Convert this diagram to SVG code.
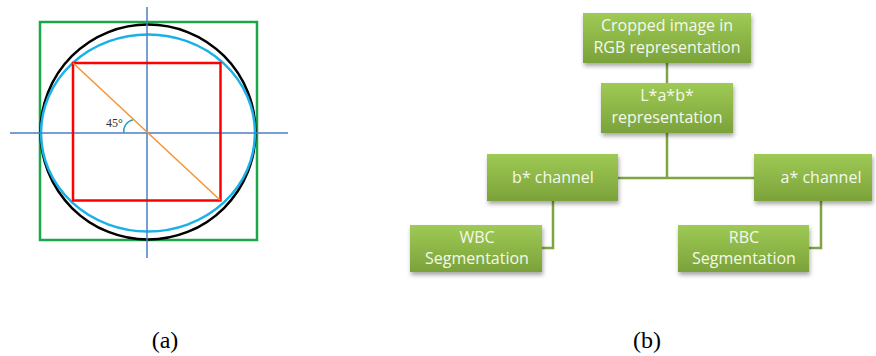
<svg xmlns="http://www.w3.org/2000/svg" width="876" height="356" viewBox="0 0 876 356">
<defs>
<linearGradient id="g" x1="0" y1="0" x2="0" y2="1">
<stop offset="0" stop-color="#9fca55"/>
<stop offset="1" stop-color="#7ba23a"/>
</linearGradient>
<filter id="sh" x="-10%" y="-10%" width="130%" height="140%">
<feDropShadow dx="1" dy="3" stdDeviation="2" flood-color="#000" flood-opacity="0.35"/>
</filter>
<style>
.box{fill:url(#g);filter:url(#sh)}
.bt{font-family:"Open Sans","Noto Sans",sans-serif;font-size:16px;fill:#f4f9ec;text-anchor:middle}
.con{fill:none;stroke:#7fa442;stroke-width:2.5}
.cap{font-family:"Liberation Serif",serif;font-size:24px;fill:#000;text-anchor:middle}
</style>
</defs>
<rect width="876" height="356" fill="#fff"/>
<g id="panel-a">
<rect x="40" y="22" width="217" height="218" fill="none" stroke="#1aa64a" stroke-width="2.5"/>
<circle cx="148" cy="132" r="107.5" fill="none" stroke="#000" stroke-width="2.5"/>
<ellipse cx="148" cy="133" rx="107" ry="98.5" fill="none" stroke="#1ab0e8" stroke-width="2.5"/>
<line x1="147" y1="7" x2="147" y2="258" stroke="#4a7fc1" stroke-width="1.5"/>
<line x1="10" y1="133" x2="288" y2="133" stroke="#4a7fc1" stroke-width="1.5"/>
<rect x="73" y="63" width="147.5" height="137.5" fill="none" stroke="#f00" stroke-width="2.5"/>
<line x1="73" y1="63" x2="220" y2="200" stroke="#f39433" stroke-width="1.5"/>
<path d="M124,133 A11,11 0 0 1 133,120" fill="none" stroke="#2aa0c0" stroke-width="1.5"/>
<text x="106" y="127" font-family="Liberation Serif,serif" font-size="12" fill="#333">45°</text>
</g>
<g id="connectors">
<line class="con" x1="667" y1="62" x2="667" y2="84"/>
<line class="con" x1="667" y1="133" x2="667" y2="178"/>
<line class="con" x1="618" y1="178" x2="755" y2="178"/>
<polyline class="con" points="553,201 553,248 542,248"/>
<polyline class="con" points="821,201 821,248 809,248"/>
</g>
<g id="n-rgb">
<rect class="box" x="583" y="13" width="168" height="50"/>
<text class="bt" x="667" y="31">Cropped image in</text>
<text class="bt" x="667" y="52.5">RGB representation</text>
</g>
<g id="n-lab">
<rect class="box" x="601" y="83" width="132" height="50"/>
<text class="bt" x="667" y="101">L*a*b*</text>
<text class="bt" x="667" y="122.5">representation</text>
</g>
<g id="n-b">
<rect class="box" x="487" y="154" width="131" height="47"/>
<text class="bt" x="553" y="183">b* channel</text>
</g>
<g id="n-a">
<rect class="box" x="754" y="154" width="118" height="47"/>
<text class="bt" x="821" y="183">a* channel</text>
</g>
<g id="n-wbc">
<rect class="box" x="410" y="225" width="132" height="47"/>
<text class="bt" x="477" y="242.5">WBC</text>
<text class="bt" x="477" y="264">Segmentation</text>
</g>
<g id="n-rbc">
<rect class="box" x="678" y="225" width="131" height="47"/>
<text class="bt" x="744" y="242.5">RBC</text>
<text class="bt" x="744" y="264">Segmentation</text>
</g>
<text class="cap" x="165" y="348">(a)</text>
<text class="cap" x="647" y="348">(b)</text>
</svg>
